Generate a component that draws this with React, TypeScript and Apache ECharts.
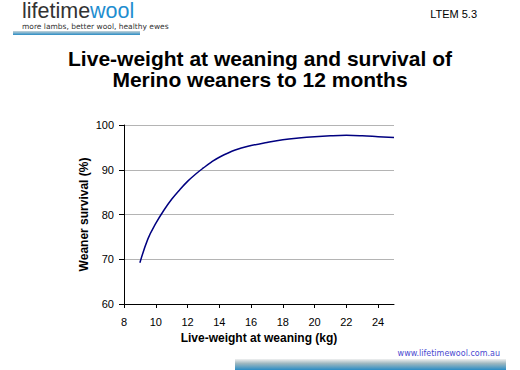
import React, { useEffect, useRef } from "react";
import * as echarts from "echarts";

const titleLines = ["Live-weight at weaning and survival of", "Merino weaners to 12 months"];
const xAxisName = "Live-weight at weaning (kg)";
const yAxisName = "Weaner survival (%)";
const liveWeight = [9, 9.5, 10, 10.5, 11, 11.5, 12, 12.5, 13, 13.5, 14, 15, 16, 17, 18, 19, 20, 21, 22, 23, 24, 25];
const survival = [69.2, 74.5, 78.0, 80.9, 83.4, 85.5, 87.4, 89.0, 90.4, 91.7, 92.8, 94.4, 95.4, 96.1, 96.7, 97.1, 97.4, 97.6, 97.7, 97.6, 97.4, 97.2];
const xMin = 8;
const xMax = 25;
const xInterval = 2;
const yMin = 60;
const yMax = 100;
const yInterval = 10;

export default function App() {
  const ref = useRef<HTMLDivElement>(null);
  useEffect(() => {
    document.body.style.margin = "0";
    const chart = echarts.init(ref.current!, undefined, { renderer: "svg" });
    const font = "Liberation Sans, Arial, sans-serif";
    const wide = "DejaVu Sans, Verdana, sans-serif";
    chart.setOption({
      animation: false,
      backgroundColor: "#ffffff",
      title: {
        text: titleLines.join("\n"),
        left: "center",
        top: 43,
        textStyle: { fontFamily: font, fontSize: 21, fontWeight: "bold", color: "#000", lineHeight: 21 },
      },
      grid: { left: 124, right: 126, top: 125, bottom: 66, containLabel: false },
      xAxis: {
        type: "value",
        min: xMin,
        max: xMax,
        interval: xInterval,
        name: xAxisName,
        nameLocation: "middle",
        nameGap: 28,
        nameMoveOverlap: false,
        nameTextStyle: { fontFamily: font, fontSize: 12, fontWeight: "bold", color: "#000" },
        axisLine: { show: true, lineStyle: { color: "#000", width: 1 } },
        axisTick: { show: true, length: 4, lineStyle: { color: "#000" } },
        axisLabel: { fontFamily: font, fontSize: 11, color: "#000", margin: 12, showMaxLabel: false },
        splitLine: { show: false },
      },
      yAxis: {
        type: "value",
        min: yMin,
        max: yMax,
        interval: yInterval,
        name: yAxisName,
        nameLocation: "middle",
        nameGap: 34,
        nameMoveOverlap: false,
        nameTextStyle: { fontFamily: font, fontSize: 12, fontWeight: "bold", color: "#000" },
        axisLine: { show: true, lineStyle: { color: "#000", width: 1 } },
        axisTick: { show: true, length: 5, lineStyle: { color: "#000" } },
        axisLabel: { fontFamily: font, fontSize: 11, color: "#000", margin: 10 },
        splitLine: { show: true, lineStyle: { color: "#b4b4b4", width: 1 } },
      },
      series: [
        {
          type: "line",
          data: liveWeight.map((x, i) => [x, survival[i]]),
          smooth: 0.4,
          symbol: "none",
          lineStyle: { color: "#000080", width: 1.5 },
        },
      ],
      graphic: [
        {
          type: "text",
          left: 22,
          top: 0,
          style: {
            text: "{a|lifetime}{b|wool}",
            rich: {
              a: { fontFamily: font, fontSize: 21.5, lineHeight: 21, fill: "#333333" },
              b: { fontFamily: font, fontSize: 21.5, lineHeight: 21, fill: "#1f8ed0" },
            },
          },
        },
        {
          type: "text",
          left: 22,
          top: 22.5,
          style: { text: "more lambs, better wool, healthy ewes", fontFamily: wide, fontSize: 7.5, lineHeight: 8, fill: "#333333" },
        },
        {
          type: "rect",
          shape: { x: 13, y: 31, width: 127, height: 4 },
          style: {
            fill: new echarts.graphic.LinearGradient(0, 0, 0, 1, [
              { offset: 0, color: "#c8d4d8" },
              { offset: 1, color: "#2a8cc4" },
            ]),
          },
        },
        {
          type: "text",
          right: 43,
          top: 8,
          style: { text: "LTEM 5.3", fontFamily: font, fontSize: 11, fill: "#000" },
        },
        {
          type: "text",
          right: 20,
          top: 349,
          style: { text: "www.lifetimewool.com.au", fontFamily: wide, fontSize: 8, fill: "#4a4ad0" },
        },
        {
          type: "rect",
          shape: { x: 235, y: 359, width: 271, height: 11 },
          style: {
            fill: new echarts.graphic.LinearGradient(0, 0, 0, 1, [
              { offset: 0, color: "#f0f0f0" },
              { offset: 0.4, color: "#9fb8c0" },
              { offset: 1, color: "#2a8cc4" },
            ]),
          },
        },
      ],
    });
    return () => chart.dispose();
  }, []);
  return <div ref={ref} style={{ width: 520, height: 370 }} />;
}
